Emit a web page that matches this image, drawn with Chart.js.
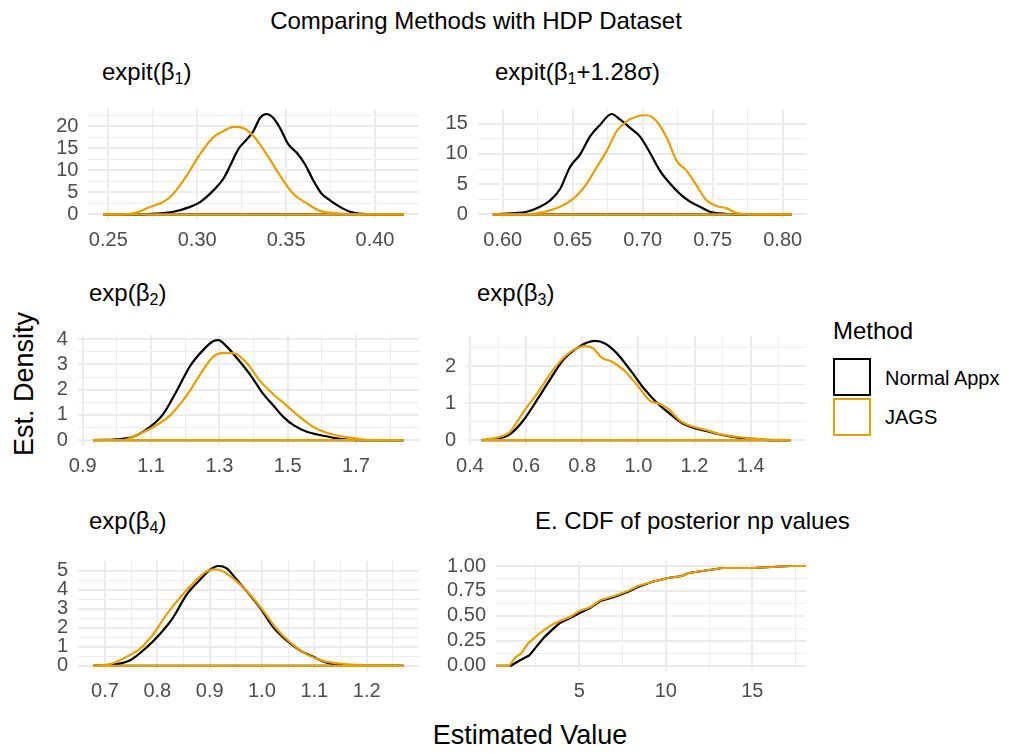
<!DOCTYPE html>
<html>
<head>
<meta charset="utf-8">
<script src="https://cdn.jsdelivr.net/npm/chart.js@4"></script>
<style>
  body { margin: 0; background: #fff; width: 1013px; height: 753px; position: relative; overflow: hidden;
         font-family: "Liberation Sans", Arial, sans-serif; }
  canvas { position: absolute; }
  .txt { position: absolute; white-space: nowrap; color: #000; line-height: 1; }
  .txt sub { font-size: 16px; vertical-align: -4px; line-height: 0; }
  .key { position: absolute; width: 34px; height: 34px; background: #fff; }
</style>
</head>
<body>
<div class="txt" style="left:476px;top:9px;font-size:24px;transform:translateX(-50%)">Comparing Methods with HDP Dataset</div>

<div class="txt" style="left:102px;top:60px;font-size:24px">expit(β<sub>1</sub>)</div>
<div class="txt" style="left:495px;top:60px;font-size:24px">expit(β<sub>1</sub>+1.28σ)</div>
<div class="txt" style="left:89px;top:281px;font-size:24px">exp(β<sub>2</sub>)</div>
<div class="txt" style="left:477px;top:281px;font-size:24px">exp(β<sub>3</sub>)</div>
<div class="txt" style="left:89px;top:509px;font-size:24px">exp(β<sub>4</sub>)</div>
<div class="txt" style="left:535px;top:509px;font-size:24px">E. CDF of posterior np values</div>

<div class="txt" style="left:24px;top:384px;font-size:27px;transform:translate(-50%,-50%) rotate(-90deg)">Est. Density</div>
<div class="txt" style="left:530px;top:722px;font-size:27px;transform:translateX(-50%)">Estimated Value</div>

<div class="txt" style="left:833px;top:319px;font-size:24px">Method</div>
<div class="key" style="left:833px;top:358px;border:2px solid #000"></div>
<div class="key" style="left:833px;top:398px;border:2px solid #E69F00"></div>
<div class="txt" style="left:885px;top:368px;font-size:20px">Normal Appx</div>
<div class="txt" style="left:885px;top:407px;font-size:20px">JAGS</div>

<script>
// expit(beta1)
const b1NormalX = [0.2472, 0.268, 0.277, 0.2866, 0.296, 0.3016, 0.309, 0.3147, 0.3194, 0.3231, 0.3278, 0.3316, 0.3353, 0.339, 0.3428, 0.3466, 0.3513, 0.356, 0.3606, 0.3653, 0.37, 0.3747, 0.3803, 0.386, 0.3934, 0.401, 0.416];
const b1NormalY = [0, 0, 0.2, 0.6, 1.7, 2.8, 5.4, 8.1, 11.8, 14.8, 17.0, 18.9, 21.9, 22.8, 21.9, 19.6, 15.9, 14.0, 11.4, 7.7, 4.7, 3.2, 1.7, 0.6, 0.1, 0, 0];
const b1JagsX = [0.2472, 0.2584, 0.2659, 0.2734, 0.2809, 0.2866, 0.2941, 0.3016, 0.309, 0.3147, 0.3203, 0.3259, 0.3316, 0.339, 0.3466, 0.354, 0.3616, 0.369, 0.3803, 0.399, 0.416];
const b1JagsY = [0, 0, 0.4, 1.7, 2.8, 4.7, 8.8, 13.7, 17.5, 18.9, 19.9, 19.6, 17.8, 13.7, 8.8, 4.7, 2.5, 0.8, 0.2, 0, 0];

// expit(beta1 + 1.28 sigma)
const q90NormalX = [0.5929, 0.6052, 0.6171, 0.6267, 0.6338, 0.641, 0.648, 0.6552, 0.6624, 0.6695, 0.6778, 0.6838, 0.691, 0.698, 0.7052, 0.7124, 0.7195, 0.7266, 0.7338, 0.741, 0.748, 0.7552, 0.767, 0.8064];
const q90NormalY = [0, 0.16, 0.43, 1.25, 2.3, 4.2, 7.8, 9.9, 12.9, 14.8, 16.6, 15.7, 14.3, 12.9, 10.2, 7.2, 5.1, 3.4, 2.1, 1.25, 0.43, 0.16, 0, 0];
const q90JagsX = [0.5929, 0.6124, 0.6267, 0.641, 0.6505, 0.66, 0.6671, 0.6743, 0.6814, 0.6886, 0.6957, 0.7029, 0.71, 0.7171, 0.7242, 0.7314, 0.7385, 0.7457, 0.7529, 0.76, 0.767, 0.779, 0.8064];
const q90JagsY = [0, 0, 0.27, 1.25, 2.6, 5.1, 7.8, 10.5, 13.75, 15.4, 16.2, 16.4, 15.4, 12.7, 8.9, 7.2, 4.8, 2.3, 1.4, 1.0, 0.27, 0, 0];

// exp(beta2)
const b2NormalX = [0.931, 1.0, 1.048, 1.097, 1.136, 1.175, 1.214, 1.253, 1.283, 1.297, 1.322, 1.351, 1.39, 1.429, 1.458, 1.488, 1.517, 1.556, 1.605, 1.653, 1.702, 1.839];
const b2NormalY = [0, 0.03, 0.13, 0.52, 1.04, 1.95, 2.93, 3.58, 3.93, 3.97, 3.71, 3.26, 2.6, 1.82, 1.37, 0.91, 0.59, 0.33, 0.17, 0.05, 0, 0];
const b2JagsX = [0.931, 1.019, 1.058, 1.107, 1.156, 1.204, 1.253, 1.283, 1.307, 1.341, 1.38, 1.419, 1.458, 1.497, 1.536, 1.575, 1.614, 1.653, 1.712, 1.751, 1.839];
const b2JagsY = [0, 0, 0.2, 0.52, 0.98, 1.76, 2.8, 3.32, 3.45, 3.45, 3.06, 2.35, 1.82, 1.37, 0.91, 0.52, 0.29, 0.16, 0.04, 0, 0];

// exp(beta3)
const b3NormalX = [0.442, 0.495, 0.543, 0.59, 0.6375, 0.685, 0.7325, 0.78, 0.8157, 0.845, 0.881, 0.9225, 0.97, 1.0176, 1.065, 1.1126, 1.16, 1.2076, 1.255, 1.3026, 1.35, 1.4095, 1.469, 1.5425];
const b3NormalY = [0, 0.03, 0.16, 0.53, 1.07, 1.64, 2.18, 2.49, 2.64, 2.69, 2.62, 2.36, 1.91, 1.42, 1.02, 0.71, 0.44, 0.31, 0.22, 0.13, 0.07, 0.03, 0, 0];
const b3JagsX = [0.442, 0.507, 0.543, 0.59, 0.6375, 0.697, 0.744, 0.78, 0.81, 0.839, 0.869, 0.905, 0.946, 0.994, 1.041, 1.077, 1.107, 1.148, 1.196, 1.243, 1.29, 1.35, 1.41, 1.469, 1.5425];
const b3JagsY = [0, 0.09, 0.22, 0.76, 1.24, 1.91, 2.31, 2.49, 2.55, 2.49, 2.24, 2.13, 1.91, 1.51, 1.07, 0.98, 0.84, 0.53, 0.36, 0.27, 0.16, 0.09, 0.04, 0.01, 0];

// exp(beta4)
const b4NormalX = [0.678, 0.722, 0.748, 0.78, 0.805, 0.83, 0.856, 0.8815, 0.9, 0.9166, 0.9325, 0.9516, 0.9707, 0.996, 1.0217, 1.047, 1.0726, 1.098, 1.1236, 1.149, 1.181, 1.27];
const b4NormalY = [0, 0.09, 0.29, 0.98, 1.67, 2.53, 3.74, 4.52, 5.03, 5.24, 5.12, 4.52, 3.91, 3.05, 2.02, 1.33, 0.81, 0.47, 0.17, 0.07, 0, 0];
const b4JagsX = [0.678, 0.7096, 0.7414, 0.767, 0.7924, 0.818, 0.843, 0.8688, 0.894, 0.91, 0.926, 0.9516, 0.977, 1.0026, 1.028, 1.0535, 1.0854, 1.117, 1.149, 1.2, 1.27];
const b4JagsY = [0, 0.09, 0.47, 0.9, 1.67, 2.71, 3.57, 4.34, 4.95, 5.07, 4.95, 4.43, 3.74, 2.88, 1.93, 1.24, 0.6, 0.26, 0.12, 0.03, 0];

// empirical CDF of posterior np
const npNormalX = [0.19, 1.04, 1.53, 2.12, 2.51, 3.0, 3.49, 3.88, 4.47, 5.02, 5.65, 6.23, 7.02, 7.8, 8.39, 9.18, 10.12, 10.94, 11.33, 12.12, 13.29, 15.06, 17.2, 18.1];
const npNormalY = [0, 0, 0.05, 0.105, 0.19, 0.29, 0.37, 0.43, 0.48, 0.53, 0.58, 0.65, 0.69, 0.74, 0.79, 0.84, 0.88, 0.90, 0.93, 0.95, 0.98, 0.98, 1.0, 1.0];
const npJagsX = [0.19, 0.95, 1.34, 1.63, 2.02, 2.47, 2.90, 3.39, 3.88, 4.47, 5.02, 5.65, 6.23, 7.02, 7.80, 8.39, 9.18, 10.12, 10.94, 11.33, 12.12, 13.29, 15.06, 17.2, 18.1];
const npJagsY = [0, 0, 0.09, 0.12, 0.22, 0.29, 0.35, 0.41, 0.45, 0.49, 0.55, 0.59, 0.66, 0.70, 0.75, 0.80, 0.84, 0.88, 0.90, 0.93, 0.95, 0.98, 0.98, 1.0, 1.0];

// tick labels (major) and minor grid lines
const b1TicksX = [0.25, 0.30, 0.35, 0.40], b1MinorX = [0.275, 0.325, 0.375];
const b1TicksY = [0, 5, 10, 15, 20], b1MinorY = [2.5, 7.5, 12.5, 17.5, 22.5];
const q90TicksX = [0.60, 0.65, 0.70, 0.75, 0.80], q90MinorX = [0.625, 0.675, 0.725, 0.775];
const q90TicksY = [0, 5, 10, 15], q90MinorY = [2.5, 7.5, 12.5];
const b2TicksX = [0.9, 1.1, 1.3, 1.5, 1.7], b2MinorX = [1.0, 1.2, 1.4, 1.6, 1.8];
const b2TicksY = [0, 1, 2, 3, 4], b2MinorY = [0.5, 1.5, 2.5, 3.5];
const b3TicksX = [0.4, 0.6, 0.8, 1.0, 1.2, 1.4], b3MinorX = [0.5, 0.7, 0.9, 1.1, 1.3, 1.5];
const b3TicksY = [0, 1, 2], b3MinorY = [0.5, 1.5, 2.5];
const b4TicksX = [0.7, 0.8, 0.9, 1.0, 1.1, 1.2], b4MinorX = [0.75, 0.85, 0.95, 1.05, 1.15, 1.25];
const b4TicksY = [0, 1, 2, 3, 4, 5], b4MinorY = [0.5, 1.5, 2.5, 3.5, 4.5];
const npTicksX = [5, 10, 15], npMinorX = [2.5, 7.5, 12.5, 17.5];
const npTicksY = [0, 0.25, 0.5, 0.75, 1.0], npMinorY = [0.125, 0.375, 0.625, 0.875];

const BLACK = '#000000', ORANGE = '#E69F00';
Chart.defaults.font.family = '"Liberation Sans", Arial, sans-serif';

function density(xs, ys, color, order) {
    return [
        { data: xs.map((x, i) => ({ x: x, y: ys[i] })), borderColor: color, borderWidth: 2.2,
          cubicInterpolationMode: 'monotone', pointRadius: 0, fill: false, order: order },
        { data: [{ x: xs[0], y: 0 }, { x: xs[xs.length - 1], y: 0 }], borderColor: color, borderWidth: 2.2,
          pointRadius: 0, fill: false, order: order }
    ];
}

function ecdf(xs, ys, color, order) {
    return [{ data: xs.map((x, i) => ({ x: x, y: ys[i] })), borderColor: color, borderWidth: 2.2,
              tension: 0, pointRadius: 0, fill: false, order: order }];
}

function axis(range, majors, minors, decimals, fitFn) {
    const all = majors.concat(minors).filter(v => v >= range[0] && v <= range[1]).sort((a, b) => a - b);
    const isMajor = v => majors.some(m => Math.abs(m - v) < 1e-9);
    return {
        type: 'linear', min: range[0], max: range[1],
        afterBuildTicks: s => { s.ticks = all.map(v => ({ value: v })); },
        afterFit: fitFn,
        border: { display: false },
        grid: { color: '#ebebeb', drawTicks: false,
                lineWidth: c => (c.tick && isMajor(c.tick.value)) ? 2 : 1 },
        ticks: { autoSkip: false, maxRotation: 0, minRotation: 0, color: '#4d4d4d', font: { size: 20 },
                 callback: v => isMajor(v) ? v.toFixed(decimals) : '' }
    };
}

function panel(rect, xRange, yRange, xTicks, yTicks, datasets) {
    const cl = Math.floor(rect.l) - 70, ct = Math.floor(rect.t) - 20;
    const cw = Math.ceil(rect.r) + 30 - cl, ch = Math.ceil(rect.b) + 40 - ct;
    const cv = document.createElement('canvas');
    cv.width = cw; cv.height = ch;
    cv.style.left = cl + 'px'; cv.style.top = ct + 'px';
    cv.style.width = cw + 'px'; cv.style.height = ch + 'px';
    document.body.appendChild(cv);

    const xs = axis(xRange, xTicks[0], xTicks[1], xTicks[2], s => { s.height = ct + ch - rect.b; });
    xs.ticks.padding = 9;
    const ys = axis(yRange, yTicks[0], yTicks[1], yTicks[2], s => { s.width = rect.l - cl; });
    ys.ticks.padding = 10;

    new Chart(cv, {
        type: 'line',
        data: { datasets: datasets },
        options: {
            responsive: false, animation: false, devicePixelRatio: 1,
            layout: { padding: { left: 0, top: rect.t - ct, right: cl + cw - rect.r, bottom: 0 } },
            plugins: { legend: { display: false }, tooltip: { enabled: false } },
            scales: { x: xs, y: ys }
        }
    });
}

panel({ l: 88.4, t: 107.4, r: 418.4, b: 219.4 }, [0.2388, 0.4244], [-1.14, 23.94],
      [b1TicksX, b1MinorX, 2], [b1TicksY, b1MinorY, 0],
      density(b1JagsX, b1JagsY, ORANGE, 0).concat(density(b1NormalX, b1NormalY, BLACK, 1)));

panel({ l: 477.8, t: 107.4, r: 806.6, b: 219.4 }, [0.5822, 0.8171], [-0.83, 17.43],
      [q90TicksX, q90MinorX, 2], [q90TicksY, q90MinorY, 0],
      density(q90JagsX, q90JagsY, ORANGE, 0).concat(density(q90NormalX, q90NormalY, BLACK, 1)));

panel({ l: 77.8, t: 333.4, r: 419, b: 445.1 }, [0.8856, 1.8844], [-0.2, 4.17],
      [b2TicksX, b2MinorX, 1], [b2TicksY, b2MinorY, 0],
      density(b2JagsX, b2JagsY, ORANGE, 0).concat(density(b2NormalX, b2NormalY, BLACK, 1)));

panel({ l: 466.2, t: 334, r: 806.1, b: 445 }, [0.3866, 1.5975], [-0.1345, 2.8245],
      [b3TicksX, b3MinorX, 1], [b3TicksY, b3MinorY, 0],
      density(b3JagsX, b3JagsY, ORANGE, 0).concat(density(b3NormalX, b3NormalY, BLACK, 1)));

panel({ l: 78, t: 559.3, r: 418.8, b: 670.8 }, [0.6484, 1.2996], [-0.262, 5.502],
      [b4TicksX, b4MinorX, 1], [b4TicksY, b4MinorY, 0],
      density(b4JagsX, b4JagsY, ORANGE, 0).concat(density(b4NormalX, b4NormalY, BLACK, 1)));

panel({ l: 496, t: 559.3, r: 806, b: 670.8 }, [0.19, 18.1], [-0.05, 1.05],
      [npTicksX, npMinorX, 0], [npTicksY, npMinorY, 2],
      ecdf(npJagsX, npJagsY, ORANGE, 0).concat(ecdf(npNormalX, npNormalY, BLACK, 1)));
</script>
</body>
</html>
